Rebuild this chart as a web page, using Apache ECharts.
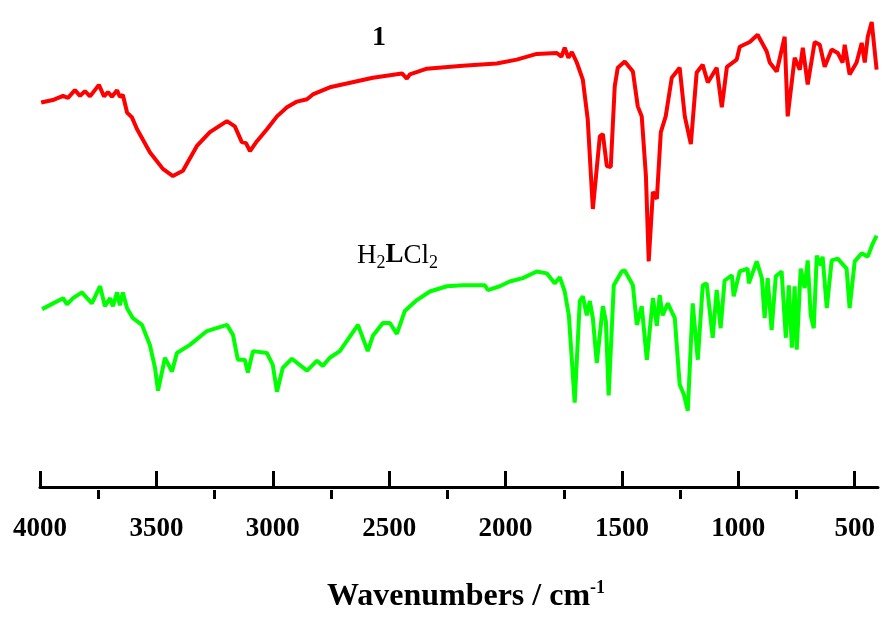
<!DOCTYPE html>
<html>
<head>
<meta charset="utf-8">
<script src="https://cdn.jsdelivr.net/npm/echarts@6/dist/echarts.min.js"></script>
<style>
    html, body { margin: 0; padding: 0; background: #fff; }
    #chart { width: 882px; height: 618px; }
</style>
</head>
<body>
<div id="chart"></div>
<script>
// IR spectrum of compound 1 (red), wavenumber in cm-1 and transmittance (arb. units)
const redWn = [3995, 3940, 3901, 3880, 3850, 3828, 3807, 3785, 3747, 3725, 3708, 3691, 3669, 3657, 3644,
    3626, 3605, 3583, 3528, 3472, 3429, 3386,
    3326, 3270, 3197, 3163, 3133, 3115, 3098, 3068, 3025, 2982, 2939, 2896, 2853, 2828, 2755,
    2570, 2445, 2424, 2411, 2338, 2184, 2038, 1952, 1866, 1780, 1760, 1746, 1730, 1715, 1694, 1668, 1647, 1625,
    1595, 1582, 1565, 1548, 1531, 1518, 1488, 1453, 1432, 1415, 1397, 1385, 1367, 1350, 1333,
    1312, 1286, 1252, 1230, 1204, 1179, 1153, 1131, 1093, 1071, 1049, 1007, 994, 951, 917,
    878, 865, 835, 801, 788, 758, 736, 723, 702, 672, 650, 629, 599, 573, 552,
    543, 522, 492, 470, 457, 444, 427, 406];
const redT = [80.6, 81.2, 82.0, 81.6, 83.2, 82.0, 83.0, 81.9, 84.3, 81.9, 82.8, 81.8, 83.2, 81.8, 82.2,
    78.5, 77.5, 75.0, 70.2, 66.7, 65.2, 66.3,
    71.5, 74.4, 76.7, 75.6, 72.3, 72.1, 70.4, 72.5, 75.0, 77.7, 79.6, 80.8, 81.3, 82.3, 83.8,
    85.8, 86.7, 85.6, 86.5, 87.7, 88.3, 88.8, 89.6, 90.8, 91.0, 90.2, 92.1, 90.0, 91.2, 89.0, 85.4, 77.1, 58.3,
    73.5, 74.0, 67.3, 67.1, 84.0, 87.9, 89.2, 87.1, 79.8, 77.7, 65.2, 47.3, 61.9, 60.4, 74.4,
    77.7, 85.8, 87.9, 77.7, 71.9, 86.9, 88.5, 84.8, 87.9, 79.6, 88.1, 89.6, 92.3, 93.3, 94.8,
    91.3, 89.0, 87.1, 94.4, 77.7, 90.0, 87.5, 92.1, 84.4, 93.3, 92.7, 88.1, 91.7, 91.0, 89.0,
    92.7, 86.5, 89.0, 93.1, 89.0, 94.4, 97.5, 87.5];

// IR spectrum of H2LCl2 (green)
const greenWn = [3991, 3901, 3884, 3858, 3820, 3798, 3777, 3742, 3721, 3699, 3687, 3669, 3657, 3644,
    3626, 3601, 3562, 3528, 3506, 3493, 3463,
    3433, 3412, 3356, 3283, 3197, 3171, 3150, 3120, 3107, 3085, 3025, 3000, 2982, 2957, 2918,
    2853, 2810, 2785, 2755, 2712, 2634, 2592, 2570, 2527, 2497, 2467, 2433, 2381, 2325, 2252,
    2184, 2089, 2076, 2025, 1982, 1926, 1866, 1823, 1789, 1767, 1746, 1728, 1703, 1681, 1668,
    1651, 1638, 1625, 1608, 1582, 1569, 1557, 1535, 1501, 1488, 1453, 1436, 1415, 1393, 1367,
    1350, 1338, 1325, 1303, 1273, 1252, 1234, 1217, 1196, 1174, 1153, 1136, 1110, 1093, 1076,
    1059, 1028, 1020, 994, 960, 955, 921, 899, 887, 874, 857, 839, 814, 796, 783,
    770, 758, 749, 732, 715, 702, 689, 676, 663, 646, 638, 620, 599, 573, 535,
    522, 500, 470, 444, 423, 406];
const greenT = [37.3, 39.6, 38.3, 39.6, 40.8, 39.6, 38.5, 42.1, 37.9, 39.6, 37.9, 40.8, 38.1, 40.8,
    37.5, 35.4, 34.0, 29.8, 25.0, 20.2, 27.1,
    24.2, 28.1, 29.8, 32.7, 34.0, 31.9, 26.7, 26.7, 24.0, 28.5, 28.1, 25.6, 20.0, 25.0, 26.9,
    24.4, 26.5, 25.4, 27.1, 28.5, 34.0, 28.5, 31.7, 34.4, 34.4, 32.1, 36.9, 39.2, 41.0, 42.1,
    42.3, 42.3, 41.3, 42.1, 43.1, 43.8, 45.2, 44.8, 42.7, 44.0, 41.0, 36.0, 17.7, 39.0, 40.0,
    36.0, 39.0, 35.4, 26.0, 37.9, 34.8, 19.2, 42.3, 45.2, 45.4, 42.3, 34.0, 37.9, 26.7, 39.6,
    33.8, 40.2, 36.0, 38.5, 35.4, 21.5, 19.4, 16.0, 38.5, 26.7, 42.3, 42.7, 31.3, 41.3, 33.3,
    43.3, 44.4, 40.0, 45.2, 45.8, 42.7, 47.3, 43.8, 35.4, 43.8, 32.9, 44.2, 45.2, 31.3, 42.3,
    29.2, 42.1, 28.8, 45.8, 41.7, 47.5, 36.0, 33.3, 48.5, 46.5, 48.3, 37.5, 47.5, 47.9, 45.8,
    37.5, 47.3, 49.0, 48.3, 51.0, 52.7];

const majorTicks = [500, 1000, 1500, 2000, 2500, 3000, 3500, 4000];
const minorTicks = [750, 1250, 1750, 2250, 2750, 3250, 3750];

const serif = '"Liberation Serif", "Times New Roman", serif';

const zip = (xs, ys) => xs.map((x, i) => [x, ys[i]]);

const chart = echarts.init(document.getElementById('chart'));

chart.setOption({
    animation: false,
    backgroundColor: '#fff',
    grid: { left: 40, right: 4, top: 10, bottom: 116 },
    xAxis: [
        {
            type: 'value',
            inverse: true,
            min: 400,
            max: 4000,
            position: 'bottom',
            axisLine: { lineStyle: { color: '#000', width: 3 } },
            axisTick: { inside: true, length: 16, customValues: majorTicks, lineStyle: { color: '#000', width: 3 } },
            axisLabel: {
                customValues: majorTicks,
                formatter: (v) => String(v),
                margin: 17,
                color: '#000',
                fontFamily: serif,
                fontWeight: 'bold',
                fontSize: 27
            },
            splitLine: { show: false },
            name: '{a|Wavenumbers / cm}{s|-1}',
            nameLocation: 'middle',
            nameGap: 80,
            nameTextStyle: {
                padding: [0, 0, 0, 14],
                rich: {
                    a: { fontFamily: serif, fontWeight: 'bold', fontSize: 32, lineHeight: 36, color: '#000' },
                    s: { fontFamily: serif, fontWeight: 'bold', fontSize: 18, lineHeight: 4, verticalAlign: 'top', color: '#000' }
                }
            }
        },
        {
            type: 'value',
            inverse: true,
            min: 400,
            max: 4000,
            position: 'bottom',
            axisLine: { show: false },
            axisTick: { inside: true, length: 9, customValues: minorTicks, lineStyle: { color: '#000', width: 3 } },
            axisLabel: { show: false },
            splitLine: { show: false }
        }
    ],
    yAxis: {
        type: 'value',
        min: -2.5,
        max: 100,
        show: false
    },
    graphic: [
        {
            type: 'text',
            left: 372,
            top: 24,
            style: { text: '1', font: 'bold 28px ' + serif, fill: '#000' }
        },
        {
            type: 'text',
            left: 357,
            top: 242,
            style: {
                text: '{a|H}{b|2}{c|L}{a|Cl}{b|2}',
                rich: {
                    a: { fontFamily: serif, fontSize: 27, lineHeight: 34, fill: '#000' },
                    c: { fontFamily: serif, fontWeight: 'bold', fontSize: 27, lineHeight: 34, fill: '#000' },
                    b: { fontFamily: serif, fontSize: 18, lineHeight: 2, verticalAlign: 'bottom', fill: '#000' }
                }
            }
        }
    ],
    series: [
        {
            name: '1',
            type: 'line',
            data: zip(redWn, redT),
            showSymbol: false,
            lineStyle: { color: '#ff0000', width: 4 },
            itemStyle: { color: '#ff0000' }
        },
        {
            name: 'H2LCl2',
            type: 'line',
            data: zip(greenWn, greenT),
            showSymbol: false,
            lineStyle: { color: '#00ff00', width: 4 },
            itemStyle: { color: '#00ff00' }
        }
    ]
});
</script>
</body>
</html>
